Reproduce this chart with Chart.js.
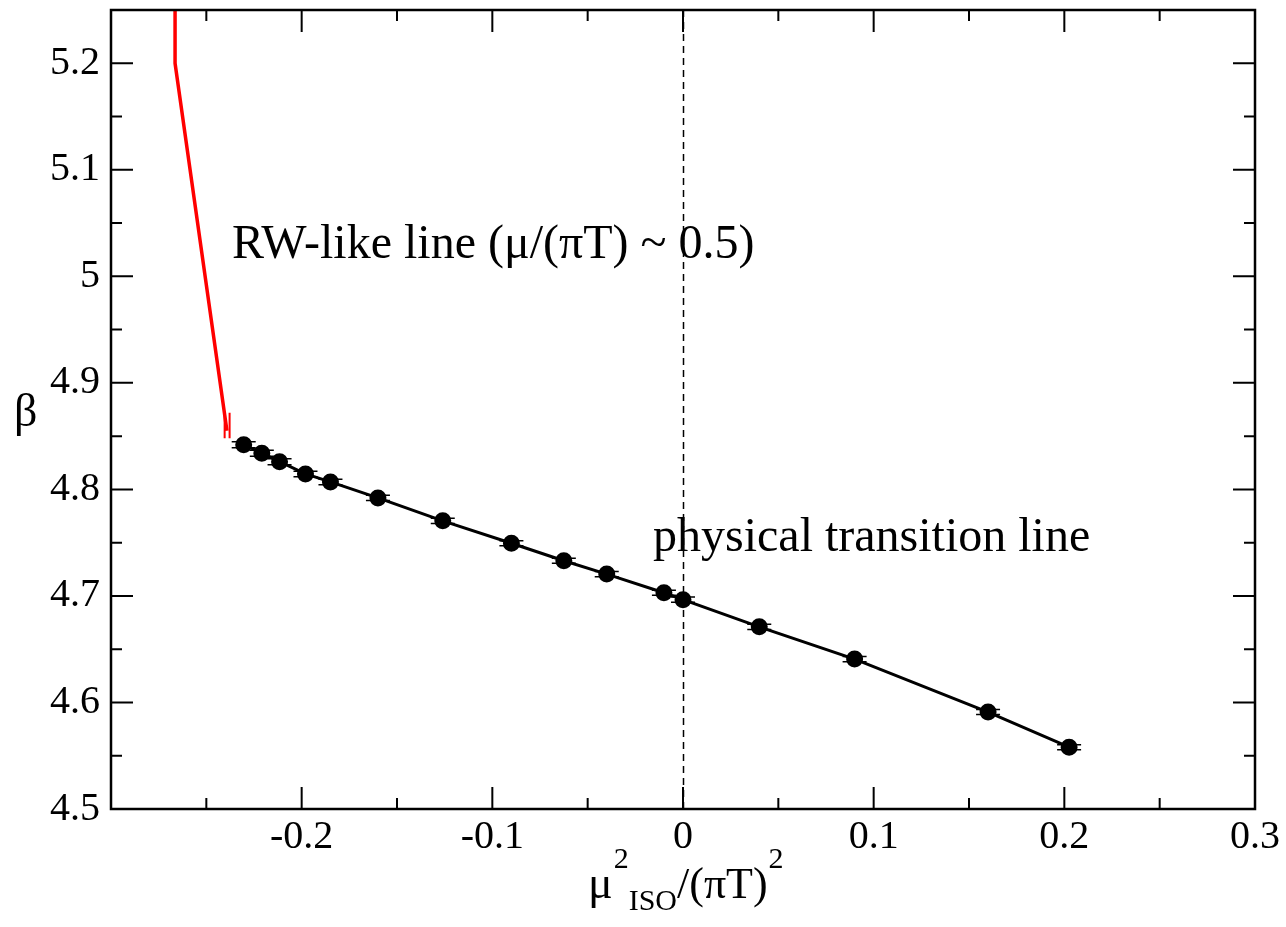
<!DOCTYPE html>
<html lang="en">
<head>
    <meta charset="UTF-8">
    <title>Transition lines</title>
    <script src="https://cdn.jsdelivr.net/npm/chart.js"></script>
    <style>
        html, body { margin: 0; padding: 0; background: #fff; }
        #wrap { width: 1286px; height: 927px; }
    </style>
</head>
<body>
<div id="wrap"><canvas id="chart" width="1286" height="927"></canvas></div>
<script>
// physical transition line (black points)
const muSq = [-0.2304, -0.2209, -0.2116, -0.198, -0.1849, -0.16, -0.126, -0.09, -0.0625, -0.04, -0.01, 0, 0.04, 0.09, 0.16, 0.2025];
const beta = [4.842, 4.834, 4.826, 4.8145, 4.807, 4.792, 4.7705, 4.7495, 4.733, 4.7205, 4.703, 4.6965, 4.671, 4.6407, 4.591, 4.558];
const betaErr = [0.0028, 0.0028, 0.0028, 0.0026, 0.0026, 0.0025, 0.0024, 0.0024, 0.0024, 0.0024, 0.0024, 0.0024, 0.0024, 0.0024, 0.0024, 0.0024];

// RW-like line (red)
const rwX = [-0.2664, -0.2664, -0.2392];
const rwY = [5.26, 5.2, 4.855];
const rwErrX = [-0.2404, -0.2378];
const rwErrY = [4.848, 4.872];

const xTicks = [-0.3, -0.2, -0.1, 0, 0.1, 0.2, 0.3];
const xMinor = [-0.25, -0.15, -0.05, 0.05, 0.15, 0.25];
const yTicks = [4.5, 4.6, 4.7, 4.8, 4.9, 5.0, 5.1, 5.2];
const yMinor = [4.55, 4.65, 4.75, 4.85, 4.95, 5.05, 5.15, 5.25];

const serif = '"Liberation Serif", "Times New Roman", serif';

function fmt(v) {
    const r = Math.round(v * 100) / 100;
    return String(r);
}

const framePlugin = {
    id: 'frame',
    beforeDatasetsDraw(chart) {
        const { ctx, chartArea: a, scales: { x } } = chart;
        ctx.save();
        // dashed line at x = 0
        ctx.strokeStyle = '#000';
        ctx.lineWidth = 1.5;
        ctx.setLineDash([7, 5]);
        const x0 = Math.round(x.getPixelForValue(0)) + 0.5;
        ctx.beginPath();
        ctx.moveTo(x0, a.top);
        ctx.lineTo(x0, a.bottom);
        ctx.stroke();
        ctx.restore();
    },
    afterDraw(chart) {
        const { ctx, chartArea: a, scales: { x, y } } = chart;
        ctx.save();
        ctx.strokeStyle = '#000';
        ctx.lineWidth = 2;
        ctx.beginPath();
        const tick = (vals, len) => {
            vals.forEach(v => {
                const px = x.getPixelForValue(v);
                if (px > a.left + 1 && px < a.right - 1) {
                    ctx.moveTo(px, a.bottom); ctx.lineTo(px, a.bottom - len);
                    ctx.moveTo(px, a.top); ctx.lineTo(px, a.top + len);
                }
            });
        };
        const ytick = (vals, len) => {
            vals.forEach(v => {
                const py = y.getPixelForValue(v);
                if (py > a.top + 1 && py < a.bottom - 1) {
                    ctx.moveTo(a.left, py); ctx.lineTo(a.left + len, py);
                    ctx.moveTo(a.right, py); ctx.lineTo(a.right - len, py);
                }
            });
        };
        tick(xTicks, 22); tick(xMinor, 11);
        ytick(yTicks, 22); ytick(yMinor, 11);
        ctx.stroke();
        ctx.lineWidth = 2.5;
        ctx.strokeRect(a.left, a.top, a.right - a.left, a.bottom - a.top);

        // annotations
        ctx.fillStyle = '#000';
        ctx.textBaseline = 'alphabetic';
        ctx.textAlign = 'left';
        ctx.font = '48px ' + serif;
        ctx.fillText('RW-like line (\u03bc/(\u03c0T) ~ 0.5)', 232, 258);
        ctx.fillText('physical transition line', 653, 551);

        // y title
        ctx.font = '46px ' + serif;
        ctx.fillText('\u03b2', 14, 426);

        // x title: mu^2_ISO/(piT)^2
        let cx = 588;
        const base = 898;
        ctx.font = '46px ' + serif;
        ctx.fillText('\u03bc', cx, base);
        cx += ctx.measureText('\u03bc').width;
        ctx.font = '30px ' + serif;
        ctx.fillText('2', cx + 1, base - 30);
        cx += ctx.measureText('2').width + 1;
        ctx.fillText('ISO', cx, base + 12);
        cx += ctx.measureText('ISO').width;
        ctx.font = '44px ' + serif;
        ctx.fillText('/(\u03c0T)', cx, base);
        cx += ctx.measureText('/(\u03c0T)').width;
        ctx.font = '30px ' + serif;
        ctx.fillText('2', cx + 1, base - 30);
        ctx.restore();
    }
};

const errPlugin = {
    id: 'errbars',
    afterDatasetsDraw(chart) {
        const { ctx, scales: { x, y } } = chart;
        ctx.save();
        ctx.strokeStyle = '#000';
        ctx.lineWidth = 1.5;
        ctx.beginPath();
        muSq.forEach((v, i) => {
            const px = x.getPixelForValue(v);
            const up = y.getPixelForValue(beta[i] + betaErr[i]);
            const dn = y.getPixelForValue(beta[i] - betaErr[i]);
            ctx.moveTo(px - 12, up); ctx.lineTo(px + 12, up);
            ctx.moveTo(px - 12, dn); ctx.lineTo(px + 12, dn);
        });
        ctx.stroke();
        ctx.strokeStyle = '#ff0000';
        ctx.lineWidth = 2;
        ctx.beginPath();
        rwErrX.forEach(v => {
            const px = x.getPixelForValue(v);
            ctx.moveTo(px, y.getPixelForValue(rwErrY[0]));
            ctx.lineTo(px, y.getPixelForValue(rwErrY[1]));
        });
        ctx.stroke();
        ctx.restore();
    }
};

const ctx = document.getElementById('chart').getContext('2d');
new Chart(ctx, {
    type: 'scatter',
    data: {
        datasets: [{
            label: 'physical transition line',
            data: muSq.map((v, i) => ({ x: v, y: beta[i] })),
            showLine: true,
            borderColor: '#000',
            borderWidth: 3,
            backgroundColor: '#000',
            pointRadius: 7,
            pointHoverRadius: 7
        }, {
            label: 'RW-like line',
            data: rwX.map((v, i) => ({ x: v, y: rwY[i] })),
            showLine: true,
            borderColor: '#ff0000',
            borderWidth: 3.5,
            pointRadius: 0
        }]
    },
    options: {
        responsive: false,
        animation: false,
        layout: { padding: { top: 10, right: 31, left: 0, bottom: 0 } },
        plugins: { legend: { display: false }, tooltip: { enabled: false } },
        scales: {
            x: {
                type: 'linear',
                min: -0.3, max: 0.3,
                afterBuildTicks: axis => { axis.ticks = xTicks.map(v => ({ value: v })); },
                afterFit: axis => {
                    axis.height = 118;
                    axis.paddingLeft = 0; axis.paddingRight = 0;
                },
                grid: { display: false, drawTicks: false },
                border: { display: false },
                ticks: {
                    padding: 4,
                    color: '#000',
                    font: { family: serif, size: 40 },
                    maxRotation: 0,
                    callback: v => (Math.abs(v + 0.3) < 1e-9 ? '' : fmt(v))
                }
            },
            y: {
                type: 'linear',
                min: 4.5, max: 5.25,
                afterBuildTicks: axis => { axis.ticks = yTicks.map(v => ({ value: v })); },
                afterFit: axis => {
                    axis.width = 111;
                    axis.paddingTop = 0; axis.paddingBottom = 0;
                },
                grid: { display: false, drawTicks: false },
                border: { display: false },
                ticks: {
                    padding: 11,
                    color: '#000',
                    font: { family: serif, size: 40 },
                    callback: v => fmt(v)
                }
            }
        }
    },
    plugins: [framePlugin, errPlugin]
});
</script>
</body>
</html>
